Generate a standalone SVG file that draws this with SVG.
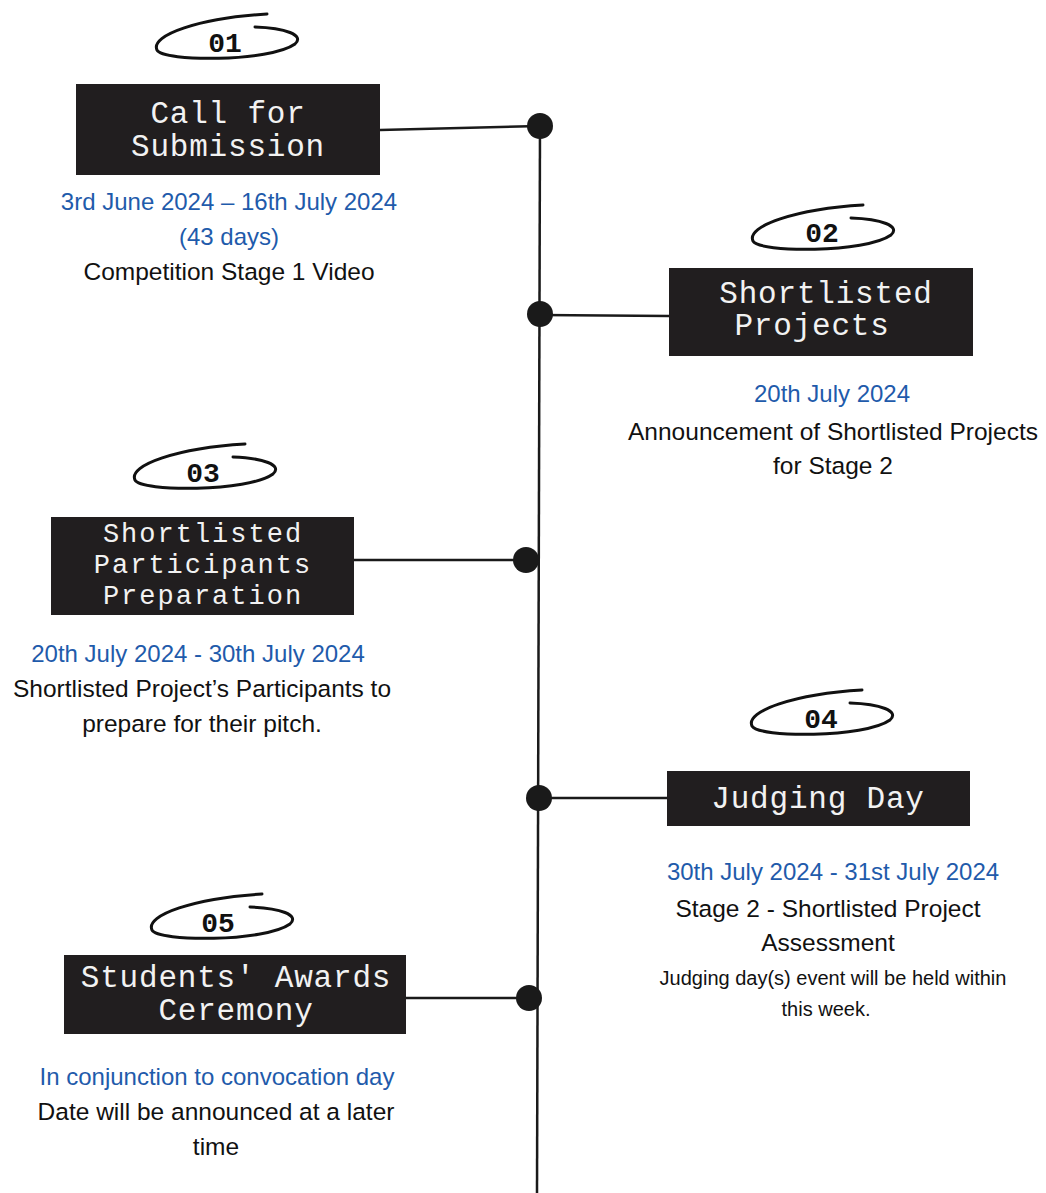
<svg xmlns="http://www.w3.org/2000/svg" xmlns:xlink="http://www.w3.org/1999/xlink" width="1046" height="1193" viewBox="0 0 1046 1193">
<style>
.box{fill:#211e1f}
.title{font-family:"Courier New","Liberation Mono","DejaVu Sans Mono",monospace;font-size:31px;letter-spacing:0.8px;fill:#f2f2f2;text-anchor:middle}
.title3{font-family:"Courier New","Liberation Mono","DejaVu Sans Mono",monospace;font-size:27px;letter-spacing:2px;fill:#f2f2f2;text-anchor:middle}
.num{font-family:"Courier New","Liberation Mono","DejaVu Sans Mono",monospace;font-size:28px;font-weight:bold;fill:#111;text-anchor:middle}
.blue{font-family:"Liberation Sans",Arial,sans-serif;font-size:24px;fill:#1f5bab;text-anchor:middle}
.txt{font-family:"Liberation Sans",Arial,sans-serif;font-size:24.5px;fill:#111;text-anchor:middle}
.small{font-family:"Liberation Sans",Arial,sans-serif;font-size:20px;fill:#111;text-anchor:middle}
.line{stroke:#1a1a1a;stroke-width:2.5;fill:none}
.dot{fill:#1a1a1a}
.scribble{fill:none;stroke:#111;stroke-width:3;stroke-linecap:round}
</style>
<defs>
<path id="oval" class="scribble" d="M 42 -28 C -25 -24, -75 -7, -68 8 C -62 20, 45 20, 70 2 C 80 -7, 60 -14, 30 -15"/>
</defs>
<rect width="1046" height="1193" fill="#ffffff"/>
<g id="connectors">
<line class="line" x1="540" y1="126" x2="537" y2="1193" stroke-width="3"/>
<line class="line" x1="380" y1="130" x2="540" y2="126"/>
<line class="line" x1="540" y1="315" x2="669" y2="316"/>
<line class="line" x1="354" y1="560" x2="526" y2="560"/>
<line class="line" x1="539" y1="798" x2="667" y2="798"/>
<line class="line" x1="406" y1="998" x2="529" y2="998"/>
<circle class="dot" cx="540" cy="126" r="13"/>
<circle class="dot" cx="540" cy="314" r="13"/>
<circle class="dot" cx="526" cy="560" r="13"/>
<circle class="dot" cx="539" cy="798" r="13"/>
<circle class="dot" cx="529" cy="998" r="13"/>
</g>
<g id="node1">
<use href="#oval" xlink:href="#oval" x="225" y="42"/>
<text class="num" x="225" y="52">01</text>
<rect class="box" x="76" y="84" width="304" height="91"/>
<text class="title" x="228" y="123">Call for</text>
<text class="title" x="228" y="156">Submission</text>
<text class="blue" x="229" y="210">3rd June 2024 – 16th July 2024</text>
<text class="blue" x="229" y="245">(43 days)</text>
<text class="txt" x="229" y="280">Competition Stage 1 Video</text>
</g>
<g id="node2">
<use href="#oval" xlink:href="#oval" x="821" y="233"/>
<text class="num" x="822" y="242">02</text>
<rect class="box" x="669" y="268" width="304" height="88"/>
<text class="title" x="826" y="303">Shortlisted</text>
<text class="title" x="812" y="335">Projects</text>
<text class="blue" x="832" y="402">20th July 2024</text>
<text class="txt" x="833" y="440">Announcement of Shortlisted Projects</text>
<text class="txt" x="833" y="474">for Stage 2</text>
</g>
<g id="node3">
<use href="#oval" xlink:href="#oval" x="203" y="472"/>
<text class="num" x="203" y="482">03</text>
<rect class="box" x="51" y="517" width="303" height="98"/>
<text class="title3" x="203" y="542">Shortlisted</text>
<text class="title3" x="203" y="573">Participants</text>
<text class="title3" x="203" y="604">Preparation</text>
<text class="blue" x="198" y="662">20th July 2024 - 30th July 2024</text>
<text class="txt" x="202" y="697">Shortlisted Project’s Participants to</text>
<text class="txt" x="202" y="732">prepare for their pitch.</text>
</g>
<g id="node4">
<use href="#oval" xlink:href="#oval" x="820" y="718"/>
<text class="num" x="821" y="728">04</text>
<rect class="box" x="667" y="771" width="303" height="55"/>
<text class="title" x="818" y="808">Judging Day</text>
<text class="blue" x="833" y="880">30th July 2024 - 31st July 2024</text>
<text class="txt" x="828" y="917">Stage 2 - Shortlisted Project</text>
<text class="txt" x="828" y="951">Assessment</text>
<text class="small" x="833" y="985">Judging day(s) event will be held within</text>
<text class="small" x="826" y="1016">this week.</text>
</g>
<g id="node5">
<use href="#oval" xlink:href="#oval" x="220" y="922"/>
<text class="num" x="218" y="932">05</text>
<rect class="box" x="64" y="955" width="342" height="79"/>
<text class="title" x="236" y="987">Students' Awards</text>
<text class="title" x="236" y="1020">Ceremony</text>
<text class="blue" x="217" y="1085">In conjunction to convocation day</text>
<text class="txt" x="216" y="1120">Date will be announced at a later</text>
<text class="txt" x="216" y="1155">time</text>
</g>
</svg>
